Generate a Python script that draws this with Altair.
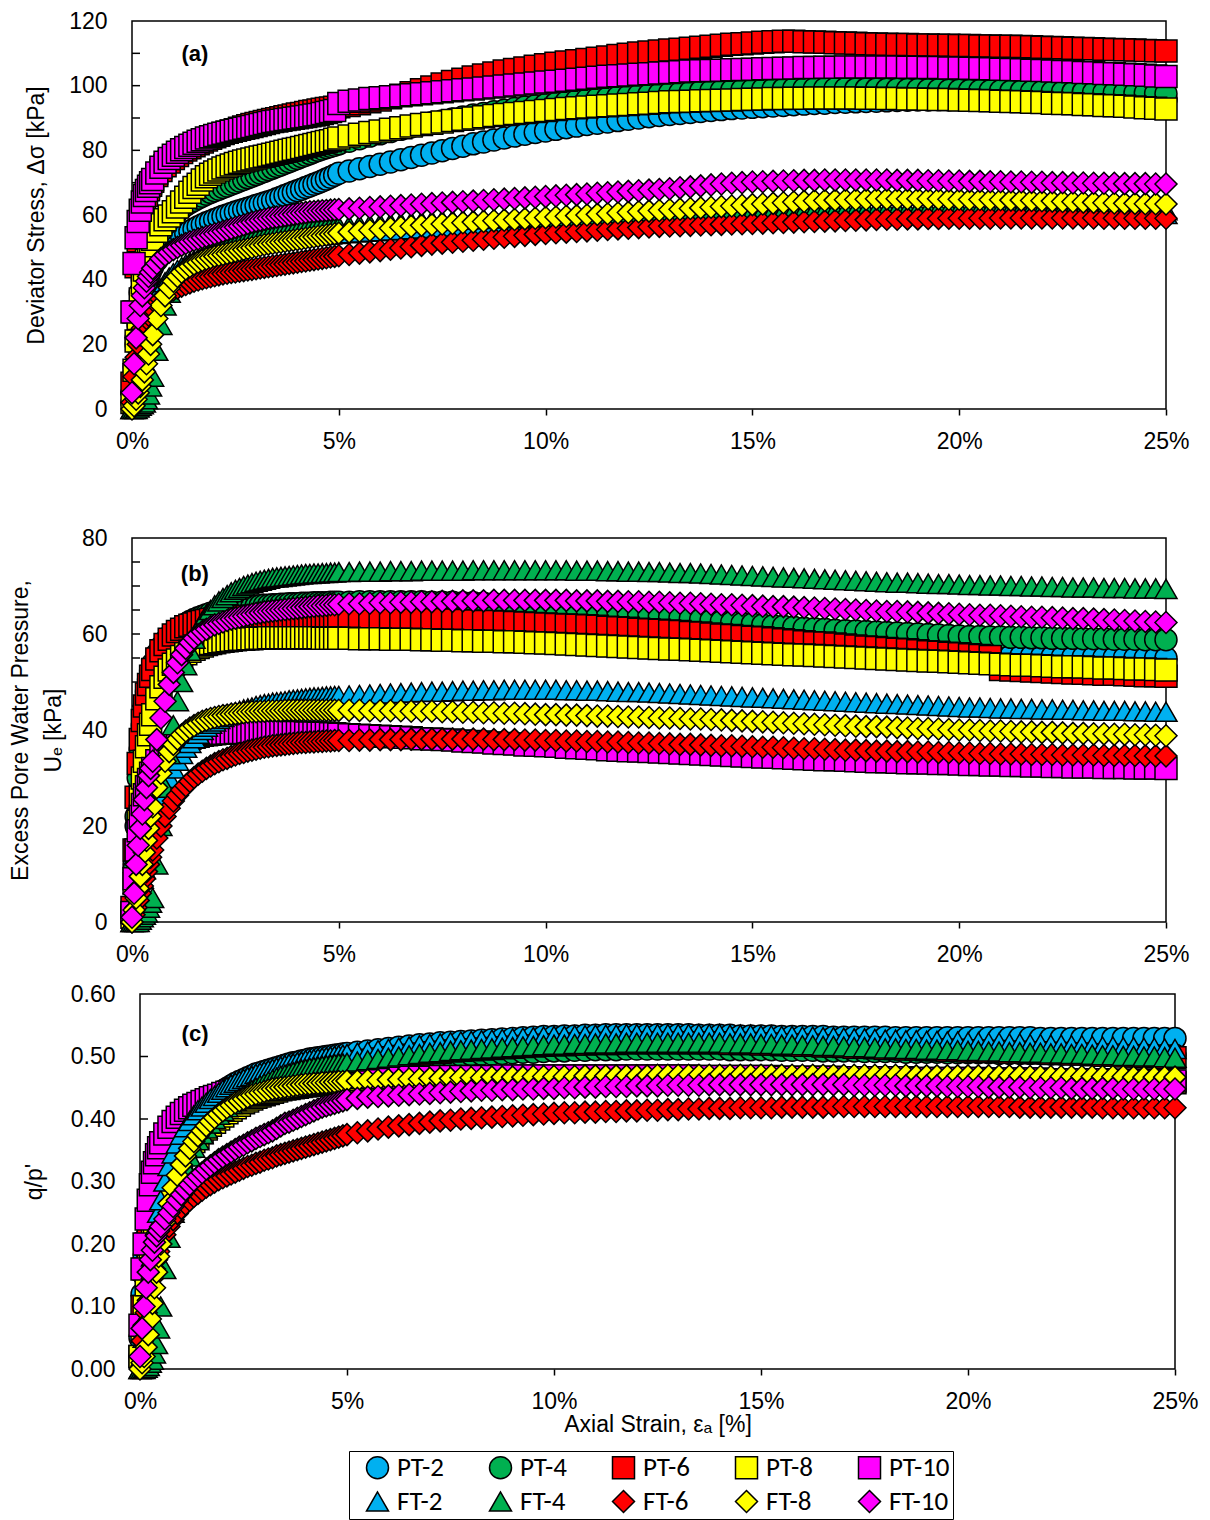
import altair as alt
import pandas as pd

# Axial strain (%) at which every test was sampled
STRAIN = [
    0.0, 0.05, 0.1, 0.15, 0.2, 0.25, 0.3, 0.35, 0.4, 0.45, 0.5,
    0.6, 0.7, 0.8, 0.9, 1.0, 1.1, 1.2, 1.3, 1.4, 1.5, 1.6, 1.7, 1.8, 1.9, 2.0,
    2.1, 2.2, 2.3, 2.4, 2.5, 2.6, 2.7, 2.8, 2.9, 3.0, 3.1, 3.2, 3.3, 3.4, 3.5,
    3.6, 3.7, 3.8, 3.9, 4.0, 4.1, 4.2, 4.3, 4.4, 4.5, 4.6, 4.7, 4.8, 4.9, 5.0,
    5.25, 5.5, 5.75, 6.0, 6.25, 6.5, 6.75, 7.0, 7.25, 7.5, 7.75, 8.0, 8.25, 8.5, 8.75, 9.0, 9.25, 9.5, 9.75, 10.0,
    10.25, 10.5, 10.75, 11.0, 11.25, 11.5, 11.75, 12.0, 12.25, 12.5, 12.75, 13.0, 13.25, 13.5, 13.75, 14.0, 14.25, 14.5, 14.75, 15.0,
    15.25, 15.5, 15.75, 16.0, 16.25, 16.5, 16.75, 17.0, 17.25, 17.5, 17.75, 18.0, 18.25, 18.5, 18.75, 19.0, 19.25, 19.5, 19.75, 20.0,
    20.25, 20.5, 20.75, 21.0, 21.25, 21.5, 21.75, 22.0, 22.25, 22.5, 22.75, 23.0, 23.25, 23.5, 23.75, 24.0, 24.25, 24.5, 24.75, 25.0,
]

SERIES = ["PT-2", "PT-4", "PT-6", "PT-8", "PT-10", "FT-2", "FT-4", "FT-6", "FT-8", "FT-10"]
FILLS = ["#00B0F0", "#00B050", "#FF0000", "#FFFF00", "#FF00FF",
         "#00B0F0", "#00B050", "#FF0000", "#FFFF00", "#FF00FF"]
SHAPES = ["circle", "circle", "square", "square", "square",
          "triangle-up", "triangle-up", "diamond", "diamond", "diamond"]
SIZES = [484, 484, 500, 500, 500, 560, 560, 470, 470, 470]

X_TICKS = [0, 5, 10, 15, 20, 25]
DEV_TICKS = [0, 20, 40, 60, 80, 100, 120]
DEV_MINOR = [10, 20, 30, 40, 50, 60, 70, 80, 90, 100, 110]
UE_TICKS = [0, 20, 40, 60, 80]
UE_MINOR = [5, 10, 15, 20, 25, 30, 35, 40, 45, 50, 55, 60, 65, 70, 75]
QP_TICKS = [0.0, 0.1, 0.2, 0.3, 0.4, 0.5, 0.6]
QP_MINOR = [0.1, 0.2, 0.3, 0.4, 0.5]

# ---------------- (a) deviator stress, kPa ----------------
DEV_PT2 = [
    5, 13, 20, 26, 30, 34, 37, 39, 41, 42.7, 44,
    46, 47.6, 49, 50.3, 51.5, 52.5, 53.4, 54.2, 55, 55.7, 56.4, 57, 57.6, 58.1, 58.6,
    59.1, 59.6, 60, 60.5, 60.9, 61.3, 61.7, 62.1, 62.5, 62.9, 63.3, 63.7, 64.1, 64.5, 65,
    65.5, 66, 66.5, 67, 67.5, 68, 68.5, 69, 69.5, 70, 70.5, 71.1, 71.7, 72.3, 72.9,
    73.6, 74.3, 75, 75.7, 76.4, 77.1, 77.8, 78.5, 79.2, 79.9, 80.6, 81.3, 82, 82.6, 83.2, 83.8, 84.4, 85, 85.5, 86,
    86.5, 87, 87.5, 88, 88.4, 88.8, 89.2, 89.6, 90, 90.4, 90.8, 91.1, 91.4, 91.7, 92, 92.3, 92.6, 92.9, 93.1, 93.3,
    93.5, 93.7, 93.9, 94.1, 94.3, 94.5, 94.6, 94.8, 94.9, 95, 95.1, 95.2, 95.3, 95.4, 95.5, 95.6, 95.6, 95.7, 95.7, 95.8,
    95.8, 95.8, 95.9, 95.9, 95.9, 96, 96, 96, 96, 96, 96, 96, 96, 96, 96, 95.9, 95.9, 95.9, 95.8, 95.8,
]
DEV_PT4 = [
    2, 11, 22, 30, 36, 40, 43, 45.5, 47.5, 49, 50.5,
    53, 55, 57, 58.5, 60, 61, 62, 63, 63.8, 64.5, 65.2, 65.8, 66.4, 67, 67.5,
    68, 68.5, 69, 69.5, 70, 70.5, 71, 71.5, 72, 72.5, 73, 73.5, 74, 74.5, 75,
    75.5, 76, 76.5, 77, 77.5, 78, 78.5, 79, 79.5, 80, 80.4, 80.8, 81.2, 81.6, 82,
    82.8, 83.6, 84.4, 85.1, 85.8, 86.5, 87.2, 87.9, 88.5, 89.1, 89.7, 90.3, 90.9, 91.4, 91.9, 92.4, 92.9, 93.4, 93.8, 94.2,
    94.6, 95, 95.4, 95.7, 96, 96.3, 96.6, 96.9, 97.1, 97.3, 97.5, 97.7, 97.9, 98.1, 98.3, 98.4, 98.5, 98.6, 98.7, 98.8,
    98.9, 99, 99, 99.1, 99.1, 99.1, 99.1, 99.1, 99.1, 99, 99, 99, 98.9, 98.9, 98.8, 98.8, 98.7, 98.7, 98.6, 98.6,
    98.5, 98.5, 98.4, 98.4, 98.3, 98.3, 98.2, 98.2, 98.1, 98.1, 98, 98, 97.9, 97.9, 97.8, 97.8, 97.7, 97.7, 97.6, 97.5,
]
DEV_PT6 = [
    8, 30, 44, 52, 57, 61, 64, 66, 67.8, 69.2, 70.4,
    72.2, 73.8, 75.2, 76.4, 77.5, 78.4, 79.3, 80.1, 80.8, 81.4, 82, 82.6, 83.2, 83.7, 84.2,
    84.7, 85.2, 85.6, 86, 86.4, 86.8, 87.2, 87.6, 88, 88.3, 88.6, 88.9, 89.2, 89.5, 89.8,
    90.1, 90.4, 90.6, 90.9, 91.2, 91.4, 91.7, 92, 92.2, 92.5, 92.7, 92.9, 93.1, 93.3, 93.5,
    93.9, 94.4, 95, 95.6, 96.3, 97, 97.8, 98.7, 99.6, 100.5, 101.3, 102, 102.7, 103.3, 103.9, 104.5, 105, 105.5, 106, 106.5,
    106.9, 107.3, 107.7, 108.1, 108.5, 108.9, 109.3, 109.7, 110.1, 110.4, 110.7, 111, 111.3, 111.6, 111.9, 112.2, 112.5, 112.8, 113, 113.2,
    113.4, 113.6, 113.7, 113.7, 113.6, 113.5, 113.4, 113.3, 113.2, 113.1, 113, 112.9, 112.8, 112.7, 112.7, 112.6, 112.6, 112.5, 112.5, 112.4,
    112.4, 112.3, 112.3, 112.2, 112.2, 112.1, 112, 111.9, 111.8, 111.7, 111.6, 111.5, 111.4, 111.3, 111.2, 111.1, 111, 110.9, 110.8, 110.7,
]
DEV_PT8 = [
    2, 12, 21, 28, 34, 39, 43, 46, 48.5, 50.5, 52.5,
    55, 57, 58.5, 59.7, 61, 62.5, 64, 65.5, 67, 68.5, 69.5, 70.8, 71.8, 72.6, 73.3,
    73.9, 74.5, 75, 75.5, 75.9, 76.3, 76.7, 77, 77.3, 77.6, 77.9, 78.2, 78.5, 78.8, 79.1,
    79.4, 79.7, 80, 80.3, 80.6, 80.9, 81.2, 81.5, 81.8, 82.1, 82.4, 82.7, 83, 83.4, 83.8,
    84.4, 85, 85.5, 86, 86.5, 87, 87.5, 88, 88.4, 88.8, 89.2, 89.6, 90, 90.4, 90.8, 91.1, 91.4, 91.7, 92, 92.3,
    92.6, 92.9, 93.2, 93.4, 93.6, 93.8, 94, 94.2, 94.4, 94.6, 94.8, 95, 95.1, 95.2, 95.3, 95.4, 95.5, 95.6, 95.7, 95.8,
    95.9, 96, 96, 96.1, 96.1, 96.2, 96.2, 96.2, 96.2, 96.2, 96.1, 96.1, 96, 96, 95.9, 95.9, 95.8, 95.7, 95.7, 95.6,
    95.5, 95.4, 95.3, 95.2, 95.1, 95, 94.9, 94.8, 94.6, 94.5, 94.4, 94.2, 94.1, 93.9, 93.8, 93.6, 93.4, 93.2, 93, 92.8,
]
DEV_PT10 = [
    30, 45, 53, 58, 61.5, 64, 66, 67.6, 68.9, 70, 71,
    73, 74.8, 76.3, 77.5, 78.5, 79.4, 80.2, 80.9, 81.6, 82.2, 82.8, 83.3, 83.8, 84.2, 84.6,
    85, 85.3, 85.6, 85.9, 86.2, 86.5, 86.8, 87.1, 87.4, 87.7, 88, 88.3, 88.6, 88.9, 89.1,
    89.3, 89.5, 89.7, 89.9, 90.1, 90.3, 90.5, 90.7, 90.9, 91.1, 91.4, 91.7, 92, 92.3, 94.5,
    95.2, 95.6, 96, 96.3, 96.6, 96.9, 97.2, 97.5, 97.8, 98.1, 98.4, 98.7, 99, 99.3, 99.6, 99.9, 100.2, 100.5, 100.8, 101.1,
    101.4, 101.7, 102, 102.3, 102.6, 102.9, 103.1, 103.3, 103.5, 103.7, 103.9, 104.1, 104.3, 104.5, 104.6, 104.7, 104.8, 104.9, 105, 105.1,
    105.2, 105.3, 105.4, 105.5, 105.6, 105.6, 105.7, 105.7, 105.8, 105.8, 105.8, 105.8, 105.8, 105.8, 105.7, 105.7, 105.6, 105.6, 105.5, 105.5,
    105.4, 105.3, 105.2, 105.1, 105, 104.9, 104.8, 104.7, 104.5, 104.4, 104.3, 104.1, 104, 103.8, 103.7, 103.5, 103.4, 103.2, 103, 102.8,
]
DEV_FT2 = [
    0, 2, 5, 9, 13, 17, 21, 24.5, 27.5, 30, 32,
    35, 37.3, 39.2, 40.7, 42, 43, 43.9, 44.7, 45.4, 46, 46.6, 47.1, 47.6, 48.1, 48.5,
    48.9, 49.3, 49.6, 49.9, 50.2, 50.5, 50.8, 51, 51.2, 51.4, 51.6, 51.8, 52, 52.2, 52.4,
    52.6, 52.8, 53, 53.1, 53.2, 53.3, 53.4, 53.5, 53.6, 53.7, 53.8, 53.9, 54, 54.1, 54.2,
    54.4, 54.6, 54.8, 55, 55.2, 55.4, 55.6, 55.8, 56, 56.2, 56.4, 56.6, 56.8, 56.9, 57, 57.1, 57.2, 57.3, 57.4, 57.5,
    57.6, 57.7, 57.8, 57.9, 58, 58.1, 58.2, 58.3, 58.4, 58.5, 58.6, 58.7, 58.8, 58.9, 59, 59.1, 59.2, 59.3, 59.4, 59.5,
    59.6, 59.7, 59.8, 59.9, 60, 60, 60.1, 60.1, 60.2, 60.2, 60.3, 60.3, 60.4, 60.4, 60.5, 60.5, 60.5, 60.5, 60.5, 60.5,
    60.5, 60.5, 60.6, 60.6, 60.6, 60.6, 60.6, 60.6, 60.6, 60.5, 60.5, 60.5, 60.5, 60.5, 60.4, 60.4, 60.4, 60.4, 60.3, 60.3,
]
DEV_FT4 = [
    0, 0, 0, 0.5, 1, 1.5, 2, 3, 4.5, 7, 10,
    18, 26, 32, 36, 38.5, 40.5, 42, 43.3, 44.4, 45.3, 46.1, 46.8, 47.4, 48, 48.5,
    49, 49.5, 49.9, 50.3, 50.7, 51.1, 51.5, 51.9, 52.2, 52.5, 52.8, 53.1, 53.4, 53.7, 54,
    54.2, 54.4, 54.6, 54.8, 55, 55.2, 55.4, 55.6, 55.8, 56, 56.1, 56.2, 56.3, 56.4, 56.5,
    56.7, 56.9, 57.1, 57.3, 57.5, 57.7, 57.9, 58.1, 58.3, 58.4, 58.5, 58.6, 58.7, 58.8, 58.9, 59, 59.1, 59.2, 59.3, 59.4,
    59.5, 59.6, 59.7, 59.8, 59.9, 60, 60.1, 60.2, 60.3, 60.4, 60.5, 60.6, 60.7, 60.8, 60.9, 61, 61, 61.1, 61.1, 61.2,
    61.2, 61.3, 61.3, 61.4, 61.4, 61.5, 61.5, 61.5, 61.6, 61.6, 61.6, 61.6, 61.7, 61.7, 61.7, 61.7, 61.8, 61.8, 61.8, 61.8,
    61.8, 61.8, 61.8, 61.8, 61.8, 61.8, 61.8, 61.8, 61.7, 61.7, 61.7, 61.7, 61.6, 61.6, 61.6, 61.6, 61.5, 61.5, 61.5, 61.5,
]
DEV_FT6 = [
    2, 10, 16, 20, 23, 25, 26.5, 28, 29, 30, 31,
    32.5, 34, 35, 36, 36.8, 37.4, 38, 38.5, 39, 39.5, 39.9, 40.3, 40.6, 40.9, 41.2,
    41.5, 41.8, 42, 42.2, 42.4, 42.6, 42.8, 43, 43.2, 43.4, 43.6, 43.8, 44, 44.2, 44.4,
    44.6, 44.8, 45, 45.2, 45.4, 45.6, 45.8, 46, 46.2, 46.4, 46.6, 46.8, 47, 47.2, 47.4,
    47.8, 48.2, 48.6, 49, 49.4, 49.8, 50.2, 50.6, 51, 51.3, 51.6, 51.9, 52.2, 52.5, 52.8, 53.1, 53.4, 53.7, 54, 54.3,
    54.5, 54.7, 54.9, 55.1, 55.3, 55.5, 55.7, 55.9, 56.1, 56.3, 56.5, 56.6, 56.7, 56.8, 56.9, 57, 57.1, 57.2, 57.3, 57.4,
    57.5, 57.6, 57.7, 57.8, 57.9, 58, 58.1, 58.2, 58.3, 58.4, 58.5, 58.6, 58.7, 58.7, 58.8, 58.8, 58.9, 58.9, 59, 59,
    59, 59, 59, 59.1, 59.1, 59.1, 59.1, 59.1, 59.1, 59.1, 59.1, 59.1, 59.1, 59, 59, 59, 59, 59, 59, 59,
]
DEV_FT8 = [
    0, 1, 3, 5, 7, 9, 11.5, 14, 17, 20, 23,
    28, 32, 35, 37.5, 39.5, 41, 42.3, 43.3, 44.1, 44.8, 45.4, 45.9, 46.4, 46.8, 47.2,
    47.5, 47.8, 48.1, 48.4, 48.7, 49, 49.3, 49.6, 49.9, 50.2, 50.5, 50.8, 51, 51.2, 51.4,
    51.6, 51.8, 52, 52.2, 52.4, 52.6, 52.8, 53, 53.2, 53.4, 53.6, 53.8, 54, 54.2, 54.4,
    54.7, 55, 55.3, 55.6, 55.9, 56.2, 56.5, 56.8, 57, 57.2, 57.4, 57.6, 57.8, 58, 58.2, 58.4, 58.6, 58.8, 59, 59.2,
    59.4, 59.6, 59.8, 60, 60.2, 60.4, 60.6, 60.8, 61, 61.2, 61.4, 61.6, 61.8, 62, 62.2, 62.4, 62.6, 62.8, 63, 63.2,
    63.4, 63.6, 63.8, 64, 64.2, 64.4, 64.5, 64.6, 64.7, 64.8, 64.9, 65, 65, 65, 65, 65, 65, 65, 64.9, 64.9,
    64.8, 64.8, 64.7, 64.7, 64.6, 64.6, 64.5, 64.4, 64.3, 64.2, 64.1, 64, 63.9, 63.8, 63.7, 63.6, 63.6, 63.5, 63.5, 63.4,
]
DEV_FT10 = [
    5, 14, 22, 28, 32, 35, 37.5, 39.5, 41, 42.3, 43.5,
    45, 46.5, 47.6, 48.5, 49.3, 50, 50.6, 51.2, 51.7, 52.2, 52.6, 53, 53.4, 53.8, 54.2,
    54.6, 55, 55.4, 55.8, 56.2, 56.6, 57, 57.4, 57.8, 58.1, 58.4, 58.7, 59, 59.2, 59.4,
    59.6, 59.8, 60, 60.2, 60.4, 60.6, 60.8, 61, 61.1, 61.2, 61.3, 61.4, 61.5, 61.6, 61.7,
    61.9, 62.1, 62.3, 62.5, 62.7, 62.9, 63.1, 63.3, 63.5, 63.7, 63.9, 64.1, 64.3, 64.5, 64.7, 64.9, 65.1, 65.3, 65.5, 65.7,
    65.9, 66.1, 66.3, 66.5, 66.7, 66.9, 67.1, 67.3, 67.5, 67.7, 67.9, 68.1, 68.4, 68.7, 69, 69.3, 69.6, 69.8, 70, 70.2,
    70.3, 70.4, 70.5, 70.6, 70.7, 70.7, 70.8, 70.8, 70.8, 70.8, 70.8, 70.8, 70.8, 70.7, 70.7, 70.7, 70.6, 70.6, 70.5, 70.5,
    70.4, 70.4, 70.3, 70.3, 70.2, 70.2, 70.1, 70.1, 70, 70, 69.9, 69.9, 69.8, 69.8, 69.8, 69.7, 69.7, 69.7, 69.6, 69.6,
]

# ---------------- (b) excess pore water pressure, kPa ----------------
UE_PT2 = [
    2, 12, 20, 27, 32, 36, 40, 43, 45, 47, 48.5,
    51, 53, 54.5, 55.6, 56.5, 57.2, 57.8, 58.3, 58.7, 59, 59.3, 59.6, 59.8, 60, 60.2,
    60.3, 60.4, 60.5, 60.6, 60.7, 60.8, 60.9, 60.9, 61, 61, 61, 61.1, 61.1, 61.1, 61.2,
    61.2, 61.2, 61.2, 61.2, 61.2, 61.2, 61.2, 61.2, 61.2, 61.2, 61.2, 61.2, 61.2, 61.2, 61.2,
    61.2, 61.1, 61.1, 61, 61, 60.9, 60.9, 60.8, 60.8, 60.7, 60.7, 60.6, 60.6, 60.5, 60.5, 60.4, 60.3, 60.2, 60.1, 60,
    59.9, 59.8, 59.7, 59.6, 59.5, 59.4, 59.3, 59.2, 59.1, 59, 58.9, 58.8, 58.7, 58.6, 58.5, 58.4, 58.3, 58.2, 58.1, 58,
    57.9, 57.8, 57.7, 57.6, 57.5, 57.4, 57.3, 57.2, 57.1, 57, 56.9, 56.8, 56.7, 56.6, 56.5, 56.4, 56.3, 56.2, 56.1, 56,
    55.9, 55.8, 55.7, 55.6, 55.5, 55.5, 55.4, 55.4, 55.3, 55.3, 55.2, 55.2, 55.2, 55.1, 55.1, 55.1, 55, 55, 55, 55,
]
UE_PT4 = [
    2, 11, 22, 30, 36, 41, 45, 48, 50.5, 52.3, 53.8,
    55.8, 57.3, 58.5, 59.5, 60.3, 61, 61.6, 62.1, 62.6, 63, 63.4, 63.7, 64, 64.3, 64.5,
    64.7, 64.9, 65.1, 65.2, 65.3, 65.4, 65.5, 65.6, 65.7, 65.8, 65.9, 66, 66, 66.1, 66.1,
    66.2, 66.2, 66.3, 66.3, 66.3, 66.4, 66.4, 66.4, 66.5, 66.5, 66.5, 66.5, 66.6, 66.6, 66.6,
    66.6, 66.7, 66.7, 66.7, 66.7, 66.7, 66.7, 66.7, 66.6, 66.6, 66.6, 66.5, 66.5, 66.4, 66.3, 66.2, 66.1, 66, 65.9, 65.8,
    65.6, 65.5, 65.3, 65.2, 65, 64.8, 64.6, 64.4, 64.2, 64, 63.8, 63.6, 63.4, 63.2, 63, 62.8, 62.6, 62.4, 62.2, 62.1,
    61.9, 61.7, 61.6, 61.4, 61.2, 61.1, 61, 60.8, 60.7, 60.6, 60.5, 60.4, 60.3, 60.2, 60.1, 60, 59.9, 59.8, 59.7, 59.6,
    59.5, 59.5, 59.4, 59.4, 59.3, 59.3, 59.2, 59.2, 59.1, 59.1, 59.1, 59, 59, 59, 58.9, 58.9, 58.9, 58.8, 58.8, 58.8,
]
UE_PT6 = [
    3, 15, 26, 33, 38, 42, 45, 47.5, 49.5, 51.2, 52.6,
    54.8, 56.5, 57.8, 58.9, 59.8, 60.5, 61, 61.5, 61.8, 62.1, 62.4, 62.6, 62.8, 63, 63.1,
    63.2, 63.3, 63.4, 63.5, 63.5, 63.6, 63.6, 63.7, 63.7, 63.7, 63.8, 63.8, 63.8, 63.8, 63.8,
    63.8, 63.8, 63.8, 63.8, 63.8, 63.8, 63.8, 63.8, 63.7, 63.7, 63.7, 63.7, 63.7, 63.7, 63.7,
    63.6, 63.5, 63.5, 63.4, 63.3, 63.3, 63.2, 63.1, 63, 63, 62.9, 62.8, 62.7, 62.6, 62.6, 62.5, 62.4, 62.3, 62.2, 62.1,
    62, 61.9, 61.8, 61.7, 61.6, 61.4, 61.3, 61.2, 61, 60.9, 60.8, 60.6, 60.5, 60.3, 60.2, 60, 59.8, 59.7, 59.5, 59.3,
    59.2, 59, 58.8, 58.6, 58.4, 58.2, 58.1, 57.9, 57.7, 57.5, 57.3, 57.2, 57, 56.8, 56.7, 56.5, 56.3, 56.2, 56, 55.9,
    55.7, 55.5, 55.3, 52.6, 52.5, 52.4, 52.3, 52.2, 52.1, 52, 51.9, 51.8, 51.7, 51.6, 51.6, 51.5, 51.4, 51.3, 51.3, 51.2,
]
UE_PT8 = [
    1, 8, 15, 21, 26, 30, 33.5, 36.5, 39, 41.2, 43.2,
    46.5, 49, 51, 52.5, 53.7, 54.6, 55.3, 55.9, 56.4, 56.8, 57.2, 57.5, 57.8, 58, 58.2,
    58.4, 58.5, 58.6, 58.7, 58.8, 58.9, 58.9, 59, 59, 59.1, 59.1, 59.1, 59.2, 59.2, 59.2,
    59.2, 59.2, 59.2, 59.2, 59.2, 59.2, 59.2, 59.2, 59.2, 59.2, 59.1, 59.1, 59.1, 59.1, 59.1,
    59.1, 59, 59, 59, 58.9, 58.9, 58.9, 58.8, 58.8, 58.7, 58.7, 58.6, 58.6, 58.5, 58.5, 58.4, 58.4, 58.3, 58.2, 58.1,
    58, 57.9, 57.8, 57.7, 57.6, 57.5, 57.4, 57.3, 57.2, 57.1, 57, 56.9, 56.8, 56.7, 56.6, 56.5, 56.4, 56.3, 56.2, 56.1,
    56, 55.9, 55.8, 55.7, 55.6, 55.5, 55.4, 55.3, 55.2, 55.1, 55, 54.9, 54.8, 54.7, 54.6, 54.5, 54.4, 54.3, 54.2, 54.1,
    54, 53.9, 53.8, 53.7, 53.6, 53.5, 53.5, 53.4, 53.3, 53.2, 53.2, 53.1, 53, 52.9, 52.9, 52.8, 52.7, 52.7, 52.6, 52.5,
]
UE_PT10 = [
    2, 9, 15, 19, 22, 24.5, 26.5, 28.2, 29.7, 31, 32,
    33.6, 34.8, 35.7, 36.4, 37, 37.4, 37.8, 38.1, 38.3, 38.5, 38.7, 38.9, 39, 39.1, 39.2,
    39.3, 39.3, 39.4, 39.4, 39.5, 39.5, 39.5, 39.6, 39.6, 39.6, 39.6, 39.6, 39.6, 39.6, 39.6,
    39.6, 39.6, 39.5, 39.5, 39.5, 39.5, 39.4, 39.4, 39.4, 39.3, 39.3, 39.3, 39.2, 39.2, 39.1,
    39, 38.9, 38.8, 38.7, 38.6, 38.5, 38.4, 38.2, 38.1, 38, 37.9, 37.7, 37.6, 37.5, 37.3, 37.2, 37.1, 36.9, 36.8, 36.7,
    36.6, 36.4, 36.3, 36.2, 36.1, 35.9, 35.8, 35.7, 35.6, 35.5, 35.4, 35.3, 35.2, 35.1, 35, 34.9, 34.8, 34.7, 34.6, 34.5,
    34.4, 34.3, 34.2, 34.1, 34, 33.9, 33.8, 33.8, 33.7, 33.6, 33.5, 33.4, 33.4, 33.3, 33.2, 33.2, 33.1, 33, 33, 32.9,
    32.8, 32.8, 32.7, 32.7, 32.6, 32.6, 32.5, 32.5, 32.4, 32.4, 32.3, 32.3, 32.3, 32.2, 32.2, 32.2, 32.1, 32.1, 32.1, 32,
]
UE_FT2 = [
    0, 1.5, 3, 5, 7, 9, 11, 13, 15, 17, 19,
    22.5, 25.5, 28, 30, 32, 33.6, 35, 36.3, 37.3, 38.3, 39.2, 40, 40.7, 41.3, 41.8,
    42.3, 42.7, 43.1, 43.4, 43.7, 44, 44.3, 44.5, 44.7, 45, 45.2, 45.4, 45.5, 45.7, 45.8,
    45.9, 46, 46.2, 46.3, 46.4, 46.5, 46.6, 46.7, 46.8, 46.8, 46.9, 47, 47, 47.1, 47.1,
    47.2, 47.3, 47.4, 47.5, 47.6, 47.7, 47.8, 47.9, 48, 48, 48.1, 48.2, 48.2, 48.3, 48.3, 48.4, 48.4, 48.4, 48.4, 48.4,
    48.4, 48.3, 48.3, 48.2, 48.2, 48.1, 48, 47.9, 47.9, 47.8, 47.7, 47.6, 47.5, 47.4, 47.3, 47.2, 47.1, 47, 46.9, 46.8,
    46.7, 46.6, 46.5, 46.4, 46.3, 46.2, 46.1, 46, 45.9, 45.8, 45.7, 45.6, 45.5, 45.4, 45.3, 45.2, 45.1, 45, 44.9, 44.8,
    44.7, 44.7, 44.6, 44.5, 44.5, 44.4, 44.4, 44.3, 44.3, 44.2, 44.2, 44.1, 44.1, 44, 44, 44, 43.9, 43.9, 43.8, 43.8,
]
UE_FT4 = [
    0, 0, 0, 0, 0.5, 1, 1.5, 2, 3, 4, 5,
    12, 20, 28, 35, 41, 46, 50, 53.5, 56.5, 59, 61, 62.7, 64, 65, 66,
    66.8, 67.5, 68.1, 68.7, 69.2, 69.6, 70, 70.3, 70.6, 70.9, 71.1, 71.3, 71.5, 71.7, 71.8,
    71.9, 72, 72.1, 72.2, 72.3, 72.4, 72.5, 72.5, 72.6, 72.6, 72.7, 72.7, 72.8, 72.8, 72.9,
    72.9, 73, 73, 73, 73.1, 73.1, 73.1, 73.2, 73.2, 73.2, 73.2, 73.2, 73.3, 73.3, 73.3, 73.3, 73.3, 73.3, 73.3, 73.3,
    73.3, 73.3, 73.2, 73.2, 73.2, 73.1, 73.1, 73, 73, 72.9, 72.9, 72.8, 72.7, 72.7, 72.6, 72.5, 72.4, 72.3, 72.2, 72.1,
    72, 71.9, 71.8, 71.7, 71.6, 71.5, 71.4, 71.3, 71.2, 71.1, 71, 70.9, 70.8, 70.7, 70.7, 70.6, 70.5, 70.4, 70.4, 70.3,
    70.2, 70.2, 70.1, 70.1, 70, 70, 69.9, 69.9, 69.8, 69.8, 69.7, 69.7, 69.7, 69.6, 69.6, 69.6, 69.5, 69.5, 69.5, 69.4,
]
UE_FT6 = [
    0, 1.5, 3, 4.5, 6, 7.5, 9, 10.5, 12, 13.5, 15,
    17.5, 20, 22, 23.7, 25.2, 26.4, 27.5, 28.4, 29.3, 30.1, 30.8, 31.4, 32, 32.5, 33,
    33.4, 33.8, 34.1, 34.5, 34.8, 35.1, 35.3, 35.6, 35.8, 36, 36.2, 36.4, 36.5, 36.7, 36.8,
    36.9, 37, 37.1, 37.2, 37.3, 37.4, 37.4, 37.5, 37.5, 37.6, 37.6, 37.7, 37.7, 37.8, 37.8,
    37.8, 37.9, 37.9, 38, 38, 38, 38.1, 38.1, 38.1, 38.1, 38.1, 38.1, 38.1, 38.1, 38, 38, 38, 37.9, 37.9, 37.8,
    37.8, 37.7, 37.7, 37.6, 37.6, 37.5, 37.5, 37.4, 37.3, 37.3, 37.2, 37.1, 37, 37, 36.9, 36.8, 36.7, 36.7, 36.6, 36.5,
    36.4, 36.4, 36.3, 36.2, 36.1, 36.1, 36, 35.9, 35.8, 35.8, 35.7, 35.6, 35.6, 35.5, 35.5, 35.4, 35.4, 35.3, 35.3, 35.2,
    35.2, 35.1, 35.1, 35, 35, 35, 34.9, 34.9, 34.9, 34.8, 34.8, 34.8, 34.8, 34.7, 34.7, 34.7, 34.7, 34.6, 34.6, 34.6,
]
UE_FT8 = [
    0, 2.5, 5, 7, 9.5, 12, 14.5, 17, 19.5, 22, 24,
    28, 31, 33.5, 35.5, 37, 38.1, 39, 39.8, 40.4, 40.9, 41.4, 41.8, 42.1, 42.4, 42.6,
    42.8, 43, 43.1, 43.3, 43.4, 43.5, 43.6, 43.7, 43.8, 43.8, 43.9, 43.9, 44, 44, 44,
    44, 44.1, 44.1, 44.1, 44.1, 44.1, 44.1, 44.1, 44.1, 44.1, 44.1, 44.1, 44.1, 44.1, 44.1,
    44.1, 44.1, 44, 44, 44, 44, 43.9, 43.9, 43.9, 43.8, 43.8, 43.7, 43.7, 43.6, 43.6, 43.5, 43.5, 43.4, 43.3, 43.2,
    43.2, 43.1, 43.1, 43, 42.9, 42.9, 42.8, 42.7, 42.7, 42.6, 42.5, 42.5, 42.4, 42.3, 42.3, 42.2, 42.1, 42, 41.9, 41.8,
    41.7, 41.6, 41.5, 41.4, 41.3, 41.2, 41.1, 41, 40.9, 40.8, 40.7, 40.7, 40.6, 40.5, 40.4, 40.3, 40.3, 40.2, 40.1, 40,
    40, 39.9, 39.8, 39.8, 39.7, 39.6, 39.6, 39.5, 39.5, 39.4, 39.3, 39.3, 39.2, 39.2, 39.1, 39.1, 39, 39, 38.9, 38.8,
]
UE_FT10 = [
    1, 6, 12, 16, 19.5, 22.5, 25.5, 28, 30.5, 32, 33.5,
    38, 42.5, 46, 49.5, 52, 54, 55.7, 57, 58.2, 59.1, 59.9, 60.5, 61, 61.5, 61.9,
    62.2, 62.5, 62.8, 63.1, 63.3, 63.5, 63.7, 63.9, 64.1, 64.3, 64.4, 64.6, 64.7, 64.8, 64.9,
    65, 65.1, 65.2, 65.3, 65.4, 65.5, 65.6, 65.7, 65.8, 65.9, 65.9, 66, 66.1, 66.1, 66.2,
    66.3, 66.3, 66.4, 66.5, 66.5, 66.6, 66.6, 66.7, 66.7, 66.8, 66.8, 66.9, 66.9, 66.9, 67, 67, 67, 67, 67, 67,
    67, 67, 66.9, 66.9, 66.9, 66.8, 66.8, 66.7, 66.7, 66.6, 66.6, 66.5, 66.4, 66.4, 66.3, 66.2, 66.1, 66.1, 66, 65.9,
    65.8, 65.7, 65.7, 65.6, 65.5, 65.4, 65.3, 65.2, 65.1, 65, 64.9, 64.8, 64.7, 64.7, 64.6, 64.5, 64.4, 64.3, 64.2, 64.1,
    64, 63.9, 63.9, 63.8, 63.7, 63.6, 63.5, 63.5, 63.4, 63.3, 63.2, 63.2, 63.1, 63, 62.9, 62.8, 62.7, 62.6, 62.5, 62.4,
]

# ---------------- (c) stress ratio q/p' ----------------
QP_PT2 = [
    0.05, 0.12, 0.18, 0.21, 0.235, 0.255, 0.27, 0.285, 0.297, 0.308, 0.318,
    0.335, 0.35, 0.362, 0.373, 0.383, 0.392, 0.4, 0.407, 0.414, 0.42, 0.426, 0.431, 0.436, 0.441, 0.445,
    0.449, 0.453, 0.457, 0.46, 0.463, 0.466, 0.469, 0.472, 0.474, 0.476, 0.478, 0.48, 0.482, 0.484, 0.486,
    0.488, 0.49, 0.491, 0.493, 0.494, 0.496, 0.497, 0.498, 0.499, 0.5, 0.501, 0.502, 0.503, 0.504, 0.505,
    0.507, 0.509, 0.511, 0.513, 0.515, 0.517, 0.519, 0.52, 0.522, 0.523, 0.524, 0.525, 0.526, 0.527, 0.528, 0.529, 0.53, 0.531, 0.532, 0.532,
    0.533, 0.533, 0.534, 0.534, 0.535, 0.535, 0.535, 0.535, 0.535, 0.535, 0.535, 0.535, 0.535, 0.534, 0.534, 0.534, 0.534, 0.533, 0.533, 0.533,
    0.533, 0.532, 0.532, 0.532, 0.532, 0.532, 0.531, 0.531, 0.531, 0.531, 0.531, 0.531, 0.53, 0.53, 0.53, 0.53, 0.53, 0.53, 0.53, 0.53,
    0.53, 0.53, 0.53, 0.53, 0.53, 0.53, 0.529, 0.529, 0.529, 0.529, 0.529, 0.529, 0.529, 0.529, 0.529, 0.529, 0.529, 0.529, 0.529, 0.529,
]
QP_PT4 = [
    0.02, 0.08, 0.15, 0.19, 0.23, 0.255, 0.28, 0.297, 0.31, 0.321, 0.33,
    0.345, 0.358, 0.368, 0.377, 0.385, 0.392, 0.398, 0.404, 0.41, 0.415, 0.42, 0.425, 0.429, 0.433, 0.437,
    0.441, 0.444, 0.447, 0.45, 0.453, 0.456, 0.459, 0.461, 0.463, 0.465, 0.467, 0.469, 0.471, 0.473, 0.475,
    0.476, 0.477, 0.478, 0.479, 0.48, 0.481, 0.482, 0.483, 0.484, 0.485, 0.486, 0.487, 0.488, 0.489, 0.49,
    0.491, 0.493, 0.494, 0.495, 0.496, 0.497, 0.498, 0.499, 0.5, 0.501, 0.502, 0.503, 0.504, 0.504, 0.505, 0.506, 0.507, 0.507, 0.508, 0.509,
    0.509, 0.51, 0.51, 0.511, 0.511, 0.511, 0.512, 0.512, 0.512, 0.512, 0.512, 0.512, 0.512, 0.512, 0.512, 0.512, 0.511, 0.511, 0.511, 0.511,
    0.511, 0.51, 0.51, 0.51, 0.51, 0.509, 0.509, 0.509, 0.509, 0.508, 0.508, 0.508, 0.508, 0.507, 0.507, 0.507, 0.507, 0.506, 0.506, 0.506,
    0.506, 0.506, 0.505, 0.505, 0.505, 0.505, 0.505, 0.504, 0.504, 0.504, 0.504, 0.504, 0.503, 0.503, 0.503, 0.503, 0.503, 0.502, 0.502, 0.502,
]
QP_PT6 = [
    0.02, 0.1, 0.16, 0.2, 0.225, 0.245, 0.26, 0.273, 0.285, 0.295, 0.305,
    0.32, 0.333, 0.344, 0.354, 0.363, 0.371, 0.378, 0.385, 0.391, 0.397, 0.402, 0.407, 0.411, 0.415, 0.419,
    0.423, 0.427, 0.43, 0.433, 0.436, 0.439, 0.442, 0.445, 0.448, 0.451, 0.453, 0.455, 0.457, 0.459, 0.461,
    0.463, 0.465, 0.467, 0.469, 0.471, 0.473, 0.474, 0.476, 0.477, 0.479, 0.48, 0.482, 0.483, 0.485, 0.486,
    0.492, 0.494, 0.496, 0.498, 0.5, 0.502, 0.504, 0.506, 0.507, 0.509, 0.51, 0.511, 0.512, 0.513, 0.514, 0.515, 0.516, 0.517, 0.518, 0.519,
    0.519, 0.52, 0.52, 0.521, 0.521, 0.521, 0.522, 0.522, 0.522, 0.522, 0.522, 0.522, 0.522, 0.522, 0.522, 0.522, 0.521, 0.521, 0.521, 0.52,
    0.52, 0.519, 0.519, 0.518, 0.518, 0.517, 0.517, 0.516, 0.515, 0.515, 0.514, 0.513, 0.513, 0.512, 0.512, 0.511, 0.511, 0.51, 0.51, 0.509,
    0.509, 0.508, 0.508, 0.507, 0.507, 0.506, 0.506, 0.505, 0.505, 0.504, 0.504, 0.503, 0.502, 0.502, 0.501, 0.501, 0.5, 0.5, 0.499, 0.498,
]
QP_PT8 = [
    0.02, 0.06, 0.1, 0.135, 0.165, 0.19, 0.212, 0.23, 0.246, 0.26, 0.272,
    0.29, 0.304, 0.317, 0.328, 0.338, 0.347, 0.356, 0.364, 0.371, 0.378, 0.384, 0.39, 0.395, 0.4, 0.405,
    0.41, 0.414, 0.418, 0.422, 0.426, 0.429, 0.432, 0.435, 0.437, 0.439, 0.441, 0.443, 0.445, 0.447, 0.448,
    0.449, 0.45, 0.451, 0.452, 0.453, 0.454, 0.455, 0.456, 0.457, 0.457, 0.458, 0.458, 0.459, 0.459, 0.46,
    0.463, 0.463, 0.463, 0.464, 0.464, 0.464, 0.464, 0.464, 0.465, 0.465, 0.465, 0.465, 0.465, 0.465, 0.466, 0.466, 0.466, 0.466, 0.466, 0.466,
    0.466, 0.466, 0.466, 0.466, 0.466, 0.466, 0.466, 0.466, 0.466, 0.466, 0.466, 0.466, 0.466, 0.465, 0.465, 0.465, 0.465, 0.465, 0.465, 0.465,
    0.465, 0.464, 0.464, 0.464, 0.464, 0.464, 0.464, 0.463, 0.463, 0.463, 0.463, 0.463, 0.463, 0.463, 0.462, 0.462, 0.462, 0.462, 0.462, 0.462,
    0.462, 0.461, 0.461, 0.461, 0.461, 0.461, 0.461, 0.46, 0.46, 0.46, 0.46, 0.46, 0.46, 0.459, 0.459, 0.459, 0.459, 0.459, 0.459, 0.458,
]
QP_PT10 = [
    0.07, 0.16, 0.2, 0.24, 0.27, 0.295, 0.315, 0.33, 0.343, 0.354, 0.362,
    0.376, 0.387, 0.396, 0.403, 0.409, 0.414, 0.418, 0.422, 0.425, 0.428, 0.431, 0.434, 0.436, 0.438, 0.441,
    0.443, 0.445, 0.447, 0.449, 0.451, 0.453, 0.454, 0.456, 0.457, 0.458, 0.459, 0.46, 0.461, 0.462, 0.463,
    0.463, 0.464, 0.464, 0.465, 0.465, 0.466, 0.466, 0.466, 0.467, 0.467, 0.467, 0.467, 0.468, 0.468, 0.468,
    0.466, 0.466, 0.466, 0.467, 0.467, 0.467, 0.467, 0.467, 0.468, 0.468, 0.468, 0.468, 0.468, 0.468, 0.469, 0.469, 0.469, 0.469, 0.469, 0.469,
    0.469, 0.469, 0.469, 0.469, 0.469, 0.469, 0.469, 0.469, 0.469, 0.469, 0.469, 0.469, 0.469, 0.468, 0.468, 0.468, 0.468, 0.468, 0.468, 0.468,
    0.468, 0.467, 0.467, 0.467, 0.467, 0.467, 0.467, 0.466, 0.466, 0.466, 0.466, 0.466, 0.466, 0.466, 0.465, 0.465, 0.465, 0.465, 0.465, 0.465,
    0.465, 0.464, 0.464, 0.464, 0.464, 0.464, 0.464, 0.463, 0.463, 0.463, 0.463, 0.463, 0.463, 0.462, 0.462, 0.462, 0.462, 0.462, 0.462, 0.461,
]
QP_FT2 = [
    0, 0.02, 0.05, 0.085, 0.12, 0.15, 0.18, 0.205, 0.23, 0.25, 0.27,
    0.3, 0.325, 0.345, 0.361, 0.375, 0.387, 0.397, 0.406, 0.414, 0.42, 0.426, 0.432, 0.437, 0.442, 0.447,
    0.451, 0.455, 0.458, 0.461, 0.464, 0.467, 0.469, 0.472, 0.474, 0.476, 0.478, 0.48, 0.482, 0.484, 0.486,
    0.488, 0.489, 0.491, 0.492, 0.494, 0.495, 0.496, 0.497, 0.498, 0.499, 0.5, 0.501, 0.502, 0.503, 0.504,
    0.506, 0.508, 0.51, 0.512, 0.514, 0.516, 0.518, 0.52, 0.521, 0.523, 0.524, 0.525, 0.526, 0.527, 0.528, 0.529, 0.53, 0.531, 0.532, 0.533,
    0.533, 0.534, 0.534, 0.535, 0.535, 0.535, 0.536, 0.536, 0.536, 0.536, 0.536, 0.536, 0.536, 0.536, 0.536, 0.536, 0.535, 0.535, 0.535, 0.534,
    0.534, 0.533, 0.533, 0.532, 0.532, 0.531, 0.531, 0.53, 0.529, 0.529, 0.528, 0.527, 0.527, 0.526, 0.526, 0.525, 0.525, 0.524, 0.524, 0.523,
    0.523, 0.522, 0.522, 0.521, 0.521, 0.52, 0.52, 0.519, 0.519, 0.518, 0.518, 0.517, 0.516, 0.516, 0.515, 0.515, 0.514, 0.514, 0.513, 0.512,
]
QP_FT4 = [
    0, 0, 0, 0.002, 0.005, 0.01, 0.015, 0.025, 0.04, 0.065, 0.1,
    0.16, 0.21, 0.25, 0.28, 0.305, 0.323, 0.34, 0.354, 0.366, 0.376, 0.385, 0.393, 0.4, 0.407, 0.413,
    0.419, 0.424, 0.429, 0.434, 0.438, 0.442, 0.446, 0.45, 0.454, 0.457, 0.46, 0.463, 0.466, 0.469, 0.471,
    0.473, 0.475, 0.477, 0.479, 0.48, 0.482, 0.483, 0.484, 0.485, 0.486, 0.487, 0.488, 0.489, 0.489, 0.49,
    0.492, 0.494, 0.496, 0.498, 0.5, 0.502, 0.504, 0.506, 0.507, 0.509, 0.51, 0.511, 0.512, 0.513, 0.514, 0.515, 0.516, 0.517, 0.518, 0.519,
    0.519, 0.52, 0.52, 0.521, 0.521, 0.521, 0.522, 0.522, 0.522, 0.522, 0.522, 0.522, 0.522, 0.522, 0.522, 0.522, 0.521, 0.521, 0.521, 0.52,
    0.52, 0.519, 0.519, 0.518, 0.518, 0.517, 0.517, 0.516, 0.515, 0.515, 0.514, 0.513, 0.513, 0.512, 0.512, 0.511, 0.511, 0.51, 0.51, 0.509,
    0.509, 0.508, 0.508, 0.507, 0.507, 0.506, 0.506, 0.505, 0.505, 0.504, 0.504, 0.503, 0.502, 0.502, 0.501, 0.501, 0.5, 0.5, 0.499, 0.498,
]
QP_FT6 = [
    0.02, 0.045, 0.07, 0.09, 0.11, 0.128, 0.145, 0.16, 0.175, 0.188, 0.2,
    0.215, 0.228, 0.239, 0.249, 0.257, 0.264, 0.27, 0.276, 0.281, 0.286, 0.291, 0.295, 0.299, 0.303, 0.306,
    0.309, 0.312, 0.315, 0.318, 0.321, 0.324, 0.326, 0.329, 0.331, 0.334, 0.336, 0.338, 0.341, 0.343, 0.345,
    0.347, 0.349, 0.351, 0.353, 0.355, 0.357, 0.359, 0.361, 0.363, 0.365, 0.367, 0.369, 0.371, 0.373, 0.375,
    0.378, 0.381, 0.384, 0.387, 0.389, 0.391, 0.393, 0.395, 0.397, 0.398, 0.4, 0.401, 0.402, 0.403, 0.404, 0.405, 0.406, 0.407, 0.408, 0.409,
    0.41, 0.41, 0.411, 0.411, 0.412, 0.412, 0.413, 0.413, 0.414, 0.414, 0.415, 0.415, 0.416, 0.416, 0.417, 0.417, 0.417, 0.418, 0.418, 0.418,
    0.418, 0.419, 0.419, 0.419, 0.419, 0.419, 0.42, 0.42, 0.42, 0.42, 0.42, 0.42, 0.42, 0.42, 0.42, 0.42, 0.42, 0.42, 0.42, 0.42,
    0.42, 0.42, 0.42, 0.42, 0.419, 0.419, 0.419, 0.419, 0.419, 0.419, 0.419, 0.419, 0.418, 0.418, 0.418, 0.418, 0.418, 0.418, 0.418, 0.418,
]
QP_FT8 = [
    0, 0.01, 0.02, 0.035, 0.055, 0.08, 0.105, 0.13, 0.155, 0.18, 0.2,
    0.235, 0.265, 0.29, 0.31, 0.327, 0.341, 0.353, 0.364, 0.373, 0.381, 0.389, 0.396, 0.402, 0.408, 0.413,
    0.418, 0.422, 0.426, 0.429, 0.432, 0.435, 0.438, 0.44, 0.442, 0.444, 0.446, 0.448, 0.449, 0.45, 0.451,
    0.452, 0.453, 0.454, 0.455, 0.456, 0.456, 0.457, 0.457, 0.458, 0.458, 0.459, 0.459, 0.46, 0.46, 0.461,
    0.461, 0.462, 0.462, 0.463, 0.463, 0.464, 0.464, 0.465, 0.465, 0.465, 0.466, 0.466, 0.466, 0.467, 0.467, 0.467, 0.467, 0.468, 0.468, 0.468,
    0.468, 0.468, 0.469, 0.469, 0.469, 0.469, 0.469, 0.469, 0.469, 0.47, 0.47, 0.47, 0.47, 0.47, 0.47, 0.47, 0.47, 0.47, 0.47, 0.47,
    0.47, 0.47, 0.47, 0.47, 0.47, 0.47, 0.47, 0.47, 0.47, 0.47, 0.47, 0.47, 0.47, 0.47, 0.469, 0.469, 0.469, 0.469, 0.469, 0.469,
    0.469, 0.469, 0.469, 0.469, 0.469, 0.468, 0.468, 0.468, 0.468, 0.468, 0.468, 0.468, 0.468, 0.468, 0.468, 0.467, 0.467, 0.467, 0.467, 0.467,
]
QP_FT10 = [
    0.02, 0.065, 0.1, 0.13, 0.155, 0.175, 0.19, 0.203, 0.213, 0.221, 0.228,
    0.24, 0.25, 0.26, 0.27, 0.279, 0.287, 0.295, 0.302, 0.308, 0.314, 0.32, 0.325, 0.33, 0.335, 0.339,
    0.343, 0.347, 0.351, 0.355, 0.358, 0.362, 0.365, 0.369, 0.372, 0.375, 0.378, 0.381, 0.385, 0.389, 0.393,
    0.395, 0.398, 0.401, 0.404, 0.407, 0.41, 0.413, 0.416, 0.419, 0.421, 0.423, 0.425, 0.427, 0.429, 0.431,
    0.433, 0.435, 0.436, 0.437, 0.438, 0.439, 0.44, 0.441, 0.442, 0.443, 0.444, 0.445, 0.446, 0.446, 0.447, 0.447, 0.448, 0.448, 0.449, 0.449,
    0.45, 0.45, 0.451, 0.451, 0.452, 0.452, 0.452, 0.453, 0.453, 0.453, 0.454, 0.454, 0.454, 0.454, 0.455, 0.455, 0.455, 0.455, 0.455, 0.455,
    0.455, 0.455, 0.455, 0.455, 0.455, 0.455, 0.455, 0.455, 0.454, 0.454, 0.454, 0.454, 0.454, 0.453, 0.453, 0.453, 0.453, 0.452, 0.452, 0.452,
    0.452, 0.451, 0.451, 0.451, 0.451, 0.45, 0.45, 0.45, 0.45, 0.449, 0.449, 0.449, 0.449, 0.449, 0.448, 0.448, 0.448, 0.448, 0.448, 0.448,
]

DEV = [DEV_PT2, DEV_PT4, DEV_PT6, DEV_PT8, DEV_PT10, DEV_FT2, DEV_FT4, DEV_FT6, DEV_FT8, DEV_FT10]
UE = [UE_PT2, UE_PT4, UE_PT6, UE_PT8, UE_PT10, UE_FT2, UE_FT4, UE_FT6, UE_FT8, UE_FT10]
QP = [QP_PT2, QP_PT4, QP_PT6, QP_PT8, QP_PT10, QP_FT2, QP_FT4, QP_FT6, QP_FT8, QP_FT10]

AX_FONT = "Liberation Sans Narrow, Arial Narrow, Liberation Sans, Arial, sans-serif"
LEG_FONT = "Carlito, Calibri, Lato, sans-serif"


def long_table(column, arrays):
    frames = []
    for name, values in zip(SERIES, arrays):
        if len(values) != len(STRAIN):
            raise ValueError(f"{column} {name}: {len(values)} values for {len(STRAIN)} strains")
        frames.append(pd.DataFrame({"series": name, "strain": STRAIN, column: values}))
    return pd.concat(frames, ignore_index=True)


LEGEND = alt.Legend(
    title=None, orient="none", legendX=217, legendY=1430, columns=5, direction="horizontal",
    symbolSize=280, symbolStrokeColor="black", symbolStrokeWidth=1.5, symbolOffset=12,
    labelFont=LEG_FONT, labelFontSize=27, labelColor="black", labelOffset=6,
    strokeColor="black", padding=3, columnPadding=31, rowPadding=5,
)


def panel(column, arrays, ymax, major, minor, fmt, ytitle, title_x, tag, tag_pos,
          width, height, xtitle, xtitle_pad):
    df = long_table(column, arrays)
    x = alt.X(
        "strain:Q", scale=alt.Scale(domain=[0, 25], nice=False, zero=False),
        axis=alt.Axis(values=X_TICKS, labelExpr="datum.value + '%'", title=xtitle,
                      tickSize=6, labelPadding=15, labelFlush=False, labelOverlap=False,
                      titlePadding=xtitle_pad),
    )
    y = alt.Y(
        f"{column}:Q", scale=alt.Scale(domain=[0, ymax], nice=False, zero=True),
        axis=alt.Axis(values=major, format=fmt, title=ytitle, ticks=False, tickSize=0,
                      labelPadding=25, labelFlush=False, labelOverlap=False,
                      titleX=title_x, titleBaseline="middle", titleLineHeight=33),
    )
    inner_ticks = alt.Chart(pd.DataFrame({column: minor})).mark_rule(
        color="black", strokeWidth=1.5
    ).encode(y=y, x=alt.value(0), x2=alt.value(8))

    points = alt.Chart(df).mark_point(
        filled=True, opacity=1, stroke="black", strokeWidth=1.5
    ).encode(
        x=x, y=y,
        color=alt.Color("series:N", scale=alt.Scale(domain=SERIES, range=FILLS), legend=LEGEND),
        shape=alt.Shape("series:N", scale=alt.Scale(domain=SERIES, range=SHAPES), legend=LEGEND),
        size=alt.Size("series:N", scale=alt.Scale(domain=SERIES, range=SIZES), legend=None),
    )

    tag_df = pd.DataFrame({"strain": [tag_pos[0]], column: [tag_pos[1]], "tag": [tag]})
    label = alt.Chart(tag_df).mark_text(
        font="Liberation Sans, Arial, sans-serif", fontSize=22, fontWeight="bold",
        color="black", align="center", baseline="middle",
    ).encode(x=x, y=y, text="tag:N")

    return alt.layer(inner_ticks, points, label).properties(width=width, height=height)


# the blank x title of panel (a) reserves the gap above panel (b)
pa = panel("dev", DEV, 120, DEV_TICKS, DEV_MINOR, "d", "Deviator Stress, Δσ [kPa]", -96,
           "(a)", (1.52, 109.8), 1034, 388, " ", 34)
pb = panel("ue", UE, 80, UE_TICKS, UE_MINOR, "d", ["Excess Pore Water Pressure,", "Uₑ [kPa]"], -112,
           "(b)", (1.52, 72.5), 1034, 384, None, 0)
pc = panel("qp", QP, 0.6, QP_TICKS, QP_MINOR, ".2f", "q/p'", -106,
           "(c)", (1.33, 0.536), 1035, 375, "Axial Strain, εₐ [%]", 0)

# an empty 8 px strip nudges panel (c) to the right of the panels above it
spacer = alt.Chart(pd.DataFrame({"s": [0]})).mark_point(opacity=0).encode(
    x=alt.value(0), y=alt.value(0)
).properties(width=8, height=375, view=alt.ViewBackground(stroke="transparent"))
row_c = alt.hconcat(spacer, pc, spacing=0, bounds="flush")

shared = dict(color="shared", shape="shared", size="shared", x="independent", y="independent")
chart = (
    alt.vconcat(pa, pb, row_c, spacing=15)
    .resolve_scale(**shared)
    .properties(padding={"left": 8, "top": 9, "right": 0, "bottom": 0}, background="white")
    .configure_view(stroke="black", strokeWidth=1.5)
    .configure_axis(
        labelFont=AX_FONT, labelFontSize=23, labelColor="black",
        titleFont=AX_FONT, titleFontSize=23, titleFontWeight="normal", titleColor="black",
        domain=False, grid=False, tickColor="black", tickWidth=1.5,
    )
)

chart.save("out.html", embed_options={"renderer": "svg", "actions": False})
